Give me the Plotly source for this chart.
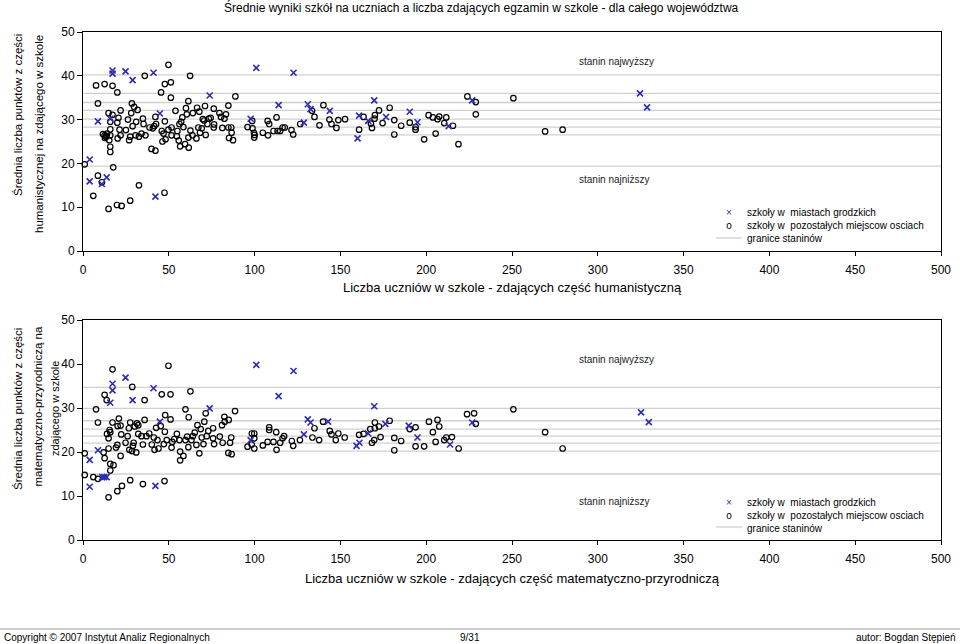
import plotly.graph_objects as go

W, H = 960, 644

# ---------------- data ----------------
x_ticks = [0, 50, 100, 150, 200, 250, 300, 350, 400, 450, 500]
y_ticks = [0, 10, 20, 30, 40, 50]

# stanine boundaries
stanine_hum = [19.4, 26.5, 28.3, 30.1, 32.1, 33.9, 36.0, 40.2]
stanine_mat = [15.0, 20.2, 22.0, 23.6, 25.2, 27.1, 29.9, 34.7]

# humanities part: schools in cities (n students, mean score)
hum_city = [(3.9, 20.9), (3.9, 15.9), (8.7, 29.6), (11, 15.3), (13.8, 16.8), (15.9, 30.2),
            (17.2, 41.2), (17.2, 40.5), (24.8, 41.0), (28.9, 39.0), (41.1, 40.7), (42.2, 12.4),
            (44.8, 31.4), (73.8, 35.5), (97.7, 30.2), (101, 41.8), (114, 33.3), (122.7, 40.7),
            (128.7, 29.3), (131, 33.5), (132.6, 32.4), (143.8, 32.0), (160, 25.7), (160.9, 30.9),
            (166.2, 29.7), (169.7, 34.4), (176.6, 30.6), (190.4, 31.8), (194.9, 29.4),
            (213.1, 28.5), (226.8, 34.4), (324.6, 36.0), (328.7, 32.8)]

# humanities part: other schools
hum_other = [(1, 19.8), (6, 12.6), (7.6, 37.8), (8.7, 33.7), (8.7, 17.2), (11, 15.7), (12.6, 38.1),
             (11.6, 26.7), (12.6, 26.4), (13.4, 26.0), (14, 26.8), (12.8, 25.8), (13.6, 26.3),
             (14.9, 31.5), (14.9, 9.6), (15.9, 29.5), (15.9, 27.8), (15.9, 26.4), (15.3, 25.3),
             (15.9, 23.8), (15.9, 22.6), (17.2, 37.7), (17.2, 31.1), (17.6, 19.1), (20, 36.2),
             (20, 29.3), (20.7, 30.4), (19.8, 10.5), (20.2, 25.7), (21.3, 27.7), (21.9, 32.1),
             (22.5, 10.3), (21.9, 26.4), (25, 27.6), (26.2, 30.0), (26.9, 25.3), (27.5, 26.1),
             (27.5, 11.5), (28.5, 33.7), (28.9, 28.5), (28.1, 31.5), (29.8, 32.9), (30.6, 26.4),
             (31, 29.5), (31.8, 32.2), (32.6, 15.0), (32.6, 26.1), (34.1, 26.8), (34.9, 30.2),
             (35.3, 29.0), (36, 40.0), (36.4, 26.4), (38.8, 28.2), (39.9, 23.3), (40.7, 28.0),
             (41.5, 28.5), (42.2, 22.9), (42.2, 30.6), (42.6, 29.0), (45.5, 36.2), (45.9, 27.4),
             (46.3, 25.0), (46.9, 26.8), (47.7, 38.1), (47.5, 13.3), (47.7, 29.6), (48.1, 25.5),
             (49.8, 42.5), (49.8, 27.7), (51.2, 38.5), (51.2, 35.0), (51.6, 28.2), (51.6, 26.4),
             (53.9, 32.0), (54.7, 26.2), (55, 27.4), (55.8, 25.2), (56.2, 29.0), (56.6, 23.9),
             (57.2, 29.5), (57.9, 30.5), (58.5, 28.3), (59.5, 24.4), (60, 32.6), (60.5, 31.2),
             (61.4, 34.2), (61.4, 25.9), (61.6, 23.6), (62.4, 40.0), (62.6, 27.5), (63.8, 26.4),
             (64, 31.5), (66.1, 25.7), (66.5, 32.7), (67.2, 28.2), (67.8, 31.8), (68.2, 27.0),
             (69.2, 28.0), (69.8, 30.1), (70.6, 29.8), (71.1, 33.1), (71.5, 26.5), (72.5, 29.0),
             (73.3, 30.2), (74.4, 30.4), (76.2, 32.5), (76.2, 28.2), (76.4, 28.9), (79.5, 31.5),
             (80.4, 30.6), (81.2, 28.1), (82.4, 30.2), (83.3, 31.2), (84.7, 33.2), (84.7, 28.2),
             (85.1, 25.8), (86.6, 27.0), (87.4, 25.3), (88.8, 35.3), (86.4, 28.2), (95.9, 28.3),
             (98.6, 29.7), (98.8, 28.0), (99.6, 27.0), (100, 26.5), (99.8, 25.9), (104.8, 27.0),
             (107.6, 29.7), (108.5, 29.0), (107.8, 26.4), (111, 27.4), (112.8, 30.5), (113.4, 27.4),
             (114.9, 27.4), (116.3, 28.2), (117.6, 28.2), (121.5, 27.6), (122.5, 26.6), (126.6, 29.0),
             (133.5, 32.0), (134.9, 30.6), (137.8, 28.7), (140.1, 33.3), (143.6, 30.0), (144.8, 29.0),
             (147.7, 28.1), (148.8, 29.9), (152.7, 30.1), (160.9, 27.7), (163.5, 30.6), (168.4, 28.1),
             (167.8, 29.1), (170.1, 31.0), (169.9, 30.2), (172.5, 32.1), (174.6, 29.2), (178.7, 32.7),
             (181.4, 29.9), (181.4, 26.6), (185.4, 28.6), (190.4, 29.3), (193.8, 28.3), (193.8, 27.7),
             (198.8, 25.5), (201.4, 31.0), (203.9, 30.5), (206.6, 30.1), (207.6, 30.7), (205.5, 26.8),
             (210.5, 29.2), (211.7, 30.5), (215.6, 28.6), (218.8, 24.4), (224, 35.3), (228.9, 34.0),
             (228.9, 31.2), (250.8, 34.9), (269.3, 27.3), (279.5, 27.7)]

# maths-science part: schools in cities
mat_city = [(3.9, 18.2), (3.9, 12.1), (8.7, 20.4), (11.2, 14.3), (12.4, 14.3), (13.8, 14.3),
            (15.9, 31.2), (17.2, 35.5), (17.2, 34.0), (24.8, 36.9), (28.9, 31.8), (41.1, 34.5),
            (42.2, 12.3), (44.8, 26.9), (73.8, 29.9), (97.7, 22.7), (101, 39.8), (114, 32.7),
            (122.7, 38.4), (128.7, 24.0), (131, 27.4), (132.6, 26.7), (142.8, 26.9), (159.4, 21.4),
            (161.1, 22.1), (166.2, 24.2), (169.7, 30.4), (176.2, 26.4), (189.8, 26.0), (194.9, 23.3),
            (213.9, 21.7), (226.8, 26.7), (325.2, 29.0), (329.7, 26.8)]

# maths-science part: other schools
mat_other = [(1, 19.7), (1, 14.8), (6, 14.3), (7.6, 29.7), (8.7, 26.7), (8.7, 13.9), (12, 19.9),
             (12.6, 33), (13.8, 31.8), (12.6, 18.6), (14, 24.1), (14.9, 9.7), (14.9, 23.1),
             (14.9, 20.8), (15.5, 25), (15.9, 24.5), (15.9, 17.3), (15.9, 15.8), (17.2, 38.8),
             (17.2, 26.7), (17.8, 17), (19.2, 21), (20, 21.6), (20.2, 25.9), (20.9, 27.6), (20, 11.1),
             (21.9, 26), (21.9, 19.1), (22.3, 24), (22.7, 12.3), (24.8, 22.1), (26, 23.6), (26.7, 25.4),
             (27, 20.5), (27.5, 13.6), (27.5, 26.7), (28.7, 34.8), (28.5, 20.2), (29.1, 21.4),
             (29.5, 22.1), (30.2, 25.8), (31, 19.9), (31.4, 26.5), (32.2, 24.1), (32.2, 26.1),
             (34.1, 23.6), (34.9, 12.7), (34.9, 21.7), (35.9, 31.8), (35.9, 27.3), (37, 23.6),
             (38.6, 24.2), (40.1, 21.7), (41.3, 23.3), (41.7, 20.5), (42.6, 25.5), (43.4, 22.7),
             (44, 20.8), (45.3, 25.9), (45.9, 33.1), (47.1, 21.8), (47.5, 13.4), (47.9, 28.4),
             (47.7, 24.6), (48.8, 22.7), (49.8, 39.6), (51, 27.4), (51, 33.1), (51.6, 21), (52, 22.3),
             (53.1, 22.9), (54.7, 24.1), (56.2, 22.7), (56.6, 20.1), (56.6, 18.1), (58.5, 19.1),
             (59.7, 29.7), (59.7, 22.7), (60.7, 23.5), (61.4, 21.1), (61.6, 27.9), (62.6, 33.8),
             (63.2, 22.7), (64, 23.6), (65.1, 24.4), (66.1, 21.6), (66.7, 26.1), (67.8, 19.7),
             (68.6, 25.2), (69.2, 23.3), (70.2, 21.8), (70.7, 26.9), (71.5, 28.8), (72.1, 23.6),
             (73, 24.8), (75.8, 25.4), (75.8, 23.1), (76.4, 21.8), (79.7, 23.5), (81, 26.1),
             (81.4, 22.1), (82.4, 28), (82.6, 26.9), (84.9, 27.3), (84.7, 19.8), (85.7, 22.1),
             (86.4, 23.3), (86.6, 19.5), (88.6, 29.3), (95.9, 21.2), (98.4, 24.2), (99.8, 24.2),
             (98.3, 21.7), (99.8, 23.1), (99.8, 20.8), (104.8, 21.5), (107.6, 22.3), (108.5, 25.6),
             (108.5, 25), (111, 22.3), (112.6, 24.5), (112.8, 20.5), (114.9, 22.1), (116.3, 23.1),
             (117.2, 23.6), (121.7, 22.5), (122.5, 21.4), (126.4, 22.7), (133.7, 23.3), (134.9, 25.4),
             (137.6, 22.7), (139.9, 26.9), (143.8, 24.8), (144.8, 24), (147.3, 22.7), (148.8, 24.2),
             (152.5, 23.3), (160.9, 23.9), (163.5, 24.1), (167.4, 25.2), (168.4, 22.1), (169.7, 22.7),
             (170.1, 26.7), (170.1, 25.4), (172.5, 25.8), (173.4, 23.4), (178.7, 27.1), (181.4, 23.2),
             (181.4, 20.4), (185.4, 22.5), (190.4, 25.2), (193.8, 25.6), (193.8, 21.3), (198.8, 21.3),
             (201.6, 26.9), (203.9, 24.5), (205.5, 22.3), (206.6, 27.3), (207.6, 25.8), (210.5, 22.7),
             (211.7, 23.3), (215, 23.4), (218.9, 20.8), (223.8, 28.6), (227.9, 28.8), (228.9, 26.4),
             (250.8, 29.7), (269.3, 24.5), (279.5, 20.8)]

title_text = "Średnie wyniki szkół na uczniach a liczba zdających egzamin w szkole - dla całego województwa"
x_title_hum = "Liczba uczniów w szkole - zdających część humanistyczną"
x_title_mat = "Liczba uczniów w szkole - zdających część matematyczno-przyrodniczą"
y_title_hum = ["Średnia liczba punktów z części", "humanistycznej na zdającego w szkole"]
y_title_mat = ["Średnia liczba punktów z części", "matematyczno-przyrodniczą na", "zdającego w szkole"]
legend_labels = ["szkoły w  miastach grodzkich", "szkoły w  pozostałych miejscow osciach", "granice staninów"]
stanin_hi = "stanin najwyższy"
stanin_lo = "stanin najniższy"
footer_left = "Copyright © 2007 Instytut Analiz Regionalnych"
footer_mid = "9/31"
footer_right = "autor: Bogdan Stępień"

# ---------------- styles ----------------
FONT = "Liberation Sans, Arial, Helvetica, sans-serif"
CROSS_COLOR = "#2c2cb4"
GRID_COLOR = "#d0d0d0"


def px(x):
    """page pixel x -> paper fraction"""
    return x / W


def py(y):
    """page pixel y -> paper fraction"""
    return 1 - y / H


def stanine_lines(bounds, xr):
    xs, ys = [], []
    for b in bounds:
        xs += [xr[0], xr[1], None]
        ys += [b, b, None]
    return xs, ys


XR = [0, 500]
YR = [0, 50]

fig = go.Figure()


def add_panel(fig, stan, city, other, xa, ya):
    sx, sy = stanine_lines(stan, XR)
    fig.add_trace(go.Scatter(x=sx, y=sy, mode="lines", xaxis=xa, yaxis=ya,
                             line=dict(color=GRID_COLOR, width=1.3),
                             showlegend=False, hoverinfo="skip"))
    fig.add_trace(go.Scatter(x=[p[0] for p in other], y=[p[1] for p in other],
                             mode="markers", xaxis=xa, yaxis=ya, cliponaxis=False,
                             marker=dict(symbol="circle-open", size=5.5, color="black",
                                         line=dict(width=1.2, color="black")),
                             showlegend=False))
    fig.add_trace(go.Scatter(x=[p[0] for p in city], y=[p[1] for p in city],
                             mode="markers", xaxis=xa, yaxis=ya, cliponaxis=False,
                             marker=dict(symbol="x-thin-open", size=6, color=CROSS_COLOR,
                                         line=dict(width=1.6, color=CROSS_COLOR)),
                             showlegend=False))


add_panel(fig, stanine_hum, hum_city, hum_other, "x", "y")
add_panel(fig, stanine_mat, mat_city, mat_other, "x2", "y2")

xdom = [px(83), px(941)]
xaxis_style = dict(range=XR, tickvals=x_ticks, showgrid=False, zeroline=False,
                   showline=True, linecolor="black", linewidth=1, mirror=True,
                   ticks="outside", ticklen=4, tickcolor="black", tickwidth=1,
                   tickfont=dict(size=12, color="black", family=FONT),
                   ticklabelstandoff=4, domain=xdom, automargin=False)
yaxis_style = dict(range=YR, tickvals=y_ticks, showgrid=False, zeroline=False,
                   showline=True, linecolor="black", linewidth=1, mirror=True,
                   ticks="outside", ticklen=5, tickcolor="black", tickwidth=1,
                   tickfont=dict(size=12, color="black", family=FONT),
                   ticklabelstandoff=0, automargin=False)

annotations = []


def ann(text, x, y, size, xanchor="center", yanchor="middle", angle=0, color="black", align="center"):
    annotations.append(dict(text=text, x=px(x), y=py(y), xref="paper", yref="paper",
                            xanchor=xanchor, yanchor=yanchor, showarrow=False, align=align,
                            textangle=angle, font=dict(size=size, color=color, family=FONT)))


ann(title_text, 481, 7, 12)
ann(x_title_hum, 512, 287, 13)
ann(x_title_mat, 512, 578, 13)
ann(y_title_hum[0], 18, 32, 11.5, yanchor="top", angle=-90)
ann(y_title_hum[1], 39, 33, 11.5, yanchor="top", angle=-90)
ann(y_title_mat[0], 18, 409, 11.5, angle=-90)
ann(y_title_mat[1], 37.5, 407, 11.5, angle=-90)
ann(y_title_mat[2], 55, 409, 11, angle=-90)

# stanin labels
ann(stanin_hi, 577, 61, 10, xanchor="left", color="#222222")
ann(stanin_lo, 577, 180, 10, xanchor="left", color="#222222")
ann(stanin_hi, 577, 360, 10, xanchor="left", color="#222222")
ann(stanin_lo, 577, 501, 10, xanchor="left", color="#222222")

shapes = []
# custom legends (tight, as in the reference)
sym_text = ("<span style='color:%s'>×</span><br><span style='color:black'>o</span><br> " % CROSS_COLOR)
for centre in (226, 515):
    ann(sym_text, 729, centre, 10)
    ann("<br>".join(legend_labels), 745, centre, 10, xanchor="left", align="left")
    shapes.append(dict(type="line", xref="paper", yref="paper",
                       x0=px(716), x1=px(742), y0=py(centre + 12), y1=py(centre + 12),
                       line=dict(color=GRID_COLOR, width=1.3)))

# footer
shapes.append(dict(type="line", xref="paper", yref="paper", x0=0, x1=1,
                   y0=py(629), y1=py(629), line=dict(color="#9a9a9a", width=1)))
ann(footer_left, 2, 637, 10, xanchor="left")
ann(footer_mid, 470, 637, 10)
ann(footer_right, 958, 637, 10, xanchor="right")

fig.update_layout(
    template="none",
    width=W, height=H, autosize=False,
    margin=dict(l=0, r=0, t=0, b=0, pad=0, autoexpand=False),
    paper_bgcolor="white", plot_bgcolor="white",
    font=dict(family=FONT, color="black"),
    showlegend=False,
    xaxis=dict(xaxis_style, anchor="y"),
    yaxis=dict(yaxis_style, domain=[py(251), py(32)], anchor="x"),
    xaxis2=dict(xaxis_style, anchor="y2"),
    yaxis2=dict(yaxis_style, domain=[py(540), py(320)], anchor="x2"),
    annotations=annotations,
    shapes=shapes,
)

fig.write_html("out.html",
               config={"responsive": False, "displayModeBar": False},
               post_script="document.body.style.margin='0';document.body.style.overflow='hidden';")
